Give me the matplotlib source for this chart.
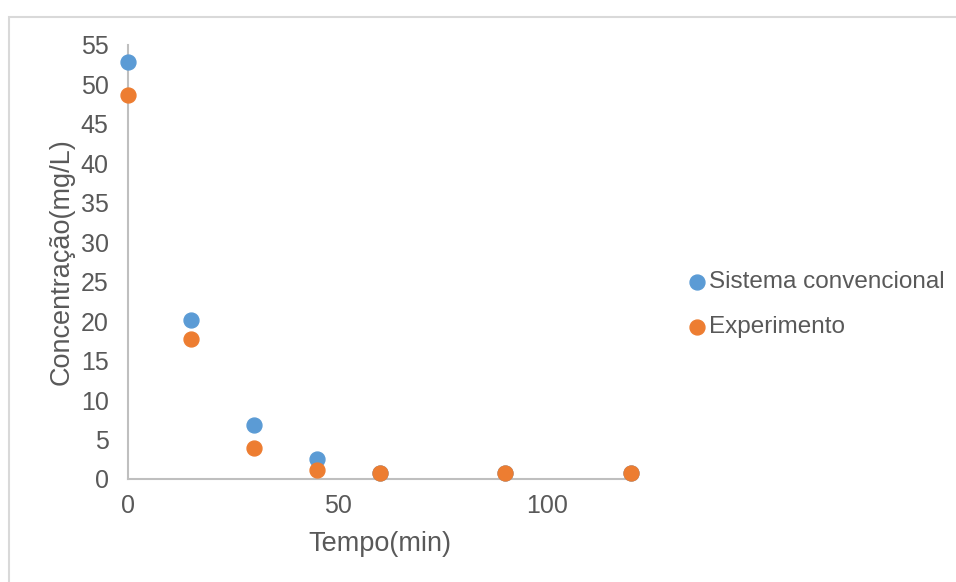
import matplotlib
matplotlib.use("Agg")
import matplotlib.pyplot as plt
from matplotlib.patches import Rectangle

plt.rcParams['font.family'] = ['Liberation Sans', 'DejaVu Sans']

# dados
tempo = [0, 15, 30, 45, 60, 90, 120]
convencional = [52.8, 20.2, 6.8, 2.5, 0.8, 0.8, 0.8]
experimento = [48.7, 17.7, 3.9, 1.2, 0.7, 0.7, 0.7]

azul = '#5B9BD5'
laranja = '#ED7D31'
texto = '#595959'
eixo = '#BFBFBF'

fig = plt.figure(figsize=(9.56, 5.82), dpi=100)
ax = fig.add_axes([128/956, 1-479/582, (631-128)/956, (479-45)/582])

ax.scatter(tempo, convencional, s=115, color=azul, zorder=3, clip_on=False,
           label='Sistema convencional')
ax.scatter(tempo, experimento, s=115, color=laranja, zorder=3, clip_on=False,
           label='Experimento')

ax.set_xlim(0, 120)
ax.set_ylim(0, 55)
ax.set_xticks([0, 50, 100])
ax.set_yticks(range(0, 56, 5))
ax.tick_params(length=0, labelsize=18, colors=texto)
ax.tick_params(axis='y', pad=14)
ax.tick_params(axis='x', pad=11)
for s in ['top', 'right']:
    ax.spines[s].set_visible(False)
for s in ['left', 'bottom']:
    ax.spines[s].set_color(eixo)
    ax.spines[s].set_linewidth(1.5)

ax.set_xlabel('Tempo(min)', fontsize=19.5, color=texto, labelpad=9)
ax.set_ylabel('Concentração(mg/L)', fontsize=19.5, color=texto, labelpad=4)

fig.legend(loc='center left', bbox_to_anchor=(690/956, 1-304.5/582), frameon=False,
           fontsize=17.5, labelcolor=texto, handlelength=0.6, handletextpad=0.2,
           labelspacing=0.95, borderpad=0, borderaxespad=0)

# moldura do grafico
fig.patches.append(Rectangle((9/956, -0.1), 1.2, 1-16.5/582+0.1,
                             transform=fig.transFigure, fill=False,
                             edgecolor='#D9D9D9', linewidth=1.5))

fig.savefig('out.png', dpi=100)
